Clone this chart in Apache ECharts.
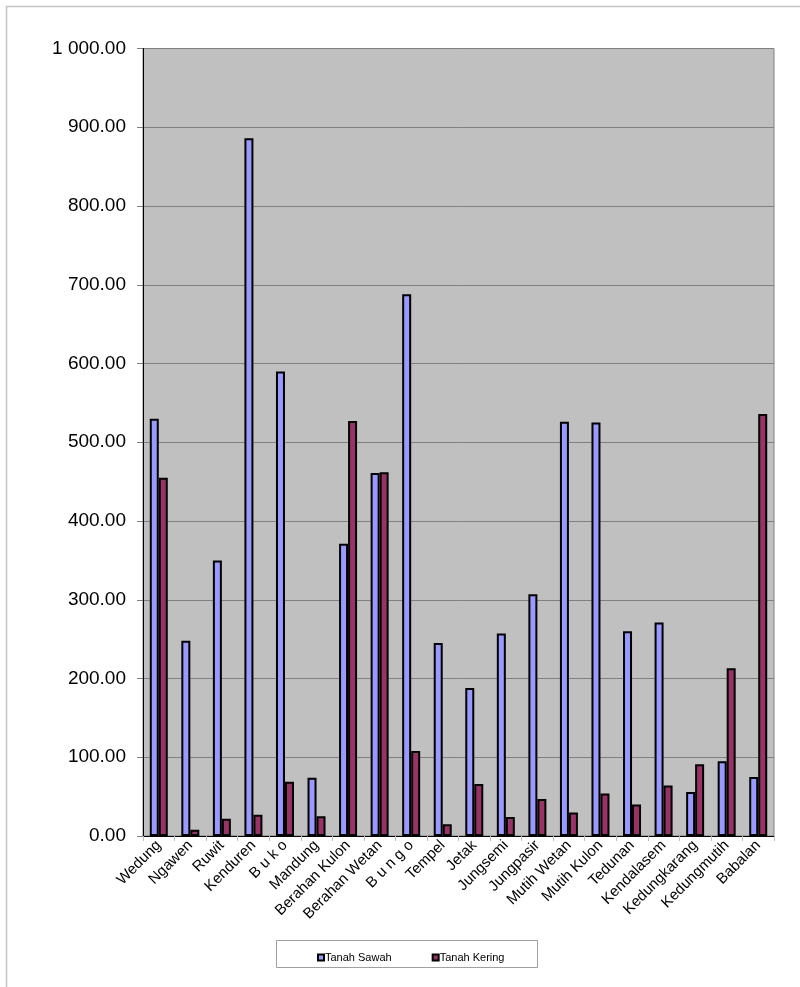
<!DOCTYPE html>
<html><head><meta charset="utf-8">
<script src="https://cdn.jsdelivr.net/npm/echarts@6/dist/echarts.min.js"></script>
<style>html,body{margin:0;padding:0;background:#fff}#c{width:800px;height:987px}</style>
</head><body><div id="c"></div>
<script>
var categories = ["Wedung","Ngawen","Ruwit","Kenduren","B u k o","Mandung","Berahan Kulon","Berahan Wetan","B u n g o","Tempel","Jetak","Jungsemi","Jungpasir","Mutih Wetan","Mutih Kulon","Tedunan","Kendalasem","Kedungkarang","Kedungmutih","Babalan"];
var tanahSawah = [530, 248, 350, 886, 590, 74, 371, 461, 688, 245, 188, 257, 307, 526, 525, 260, 271, 56, 95, 75];
var tanahKering = [455, 8, 22, 27, 69, 25, 527, 462, 108, 15, 66, 24, 47, 30, 54, 40, 64, 91, 213, 536];
var seriesNames = ["Tanah Sawah", "Tanah Kering"];

var chart = echarts.init(document.getElementById('c'), null, {renderer:'canvas'});
var font = 'Liberation Sans, Arial, sans-serif';
chart.setOption({
  animation: false,
  backgroundColor: '#fff',
  graphic: [
    {type:'rect', shape:{x:6.5,y:6.5,width:820,height:1000}, style:{fill:'none', stroke:'#c4c4c4', lineWidth:1.5}},
    {type:'rect', shape:{x:276.5,y:940.5,width:261,height:27}, style:{fill:'#fff', stroke:'#a0a0a0', lineWidth:1}, z:-1}
  ],
  grid: {left:143, right:26, top:48.5, bottom:151, show:true, backgroundColor:'#c0c0c0', borderColor:'#808080', borderWidth:1},
  legend: {
    left: 312, top: 947, itemWidth: 6, itemHeight: 6, itemGap: 40,
    icon: 'rect',
    textStyle: {fontFamily: font, fontSize: 11, color:'#000', padding:[0,0,0,-4]},
    data: seriesNames
  },
  xAxis: {
    type:'category', data: categories,
    axisLine: {lineStyle:{color:'#000', width:1}},
    axisTick: {show:true, length:5, lineStyle:{color:'#c0c0c0'}},
    axisLabel: {rotate:45, interval:0, fontFamily: font, fontSize:15, color:'#000', margin:7}
  },
  yAxis: {
    type:'value', min:0, max:1000, interval:100,
    axisLine: {show:true, lineStyle:{color:'#000', width:1}},
    axisTick: {show:true, length:6, lineStyle:{color:'#808080'}},
    splitLine: {lineStyle:{color:'#808080', width:1}},
    axisLabel: {fontFamily: font, fontSize:19, color:'#000', margin:17,
      formatter: function(v){ var s = v.toFixed(2); if (v >= 1000) { s = '1 000.00'; } return s; }}
  },
  series: [
    {name: seriesNames[0], type:'bar', data: tanahSawah, barWidth: 9, barGap: '0%',
      itemStyle:{color:'#9999ff', borderColor:'#000', borderWidth:2}},
    {name: seriesNames[1], type:'bar', data: tanahKering, barWidth: 9, barGap: '0%',
      itemStyle:{color:'#993366', borderColor:'#000', borderWidth:2}}
  ]
});
</script></body></html>
